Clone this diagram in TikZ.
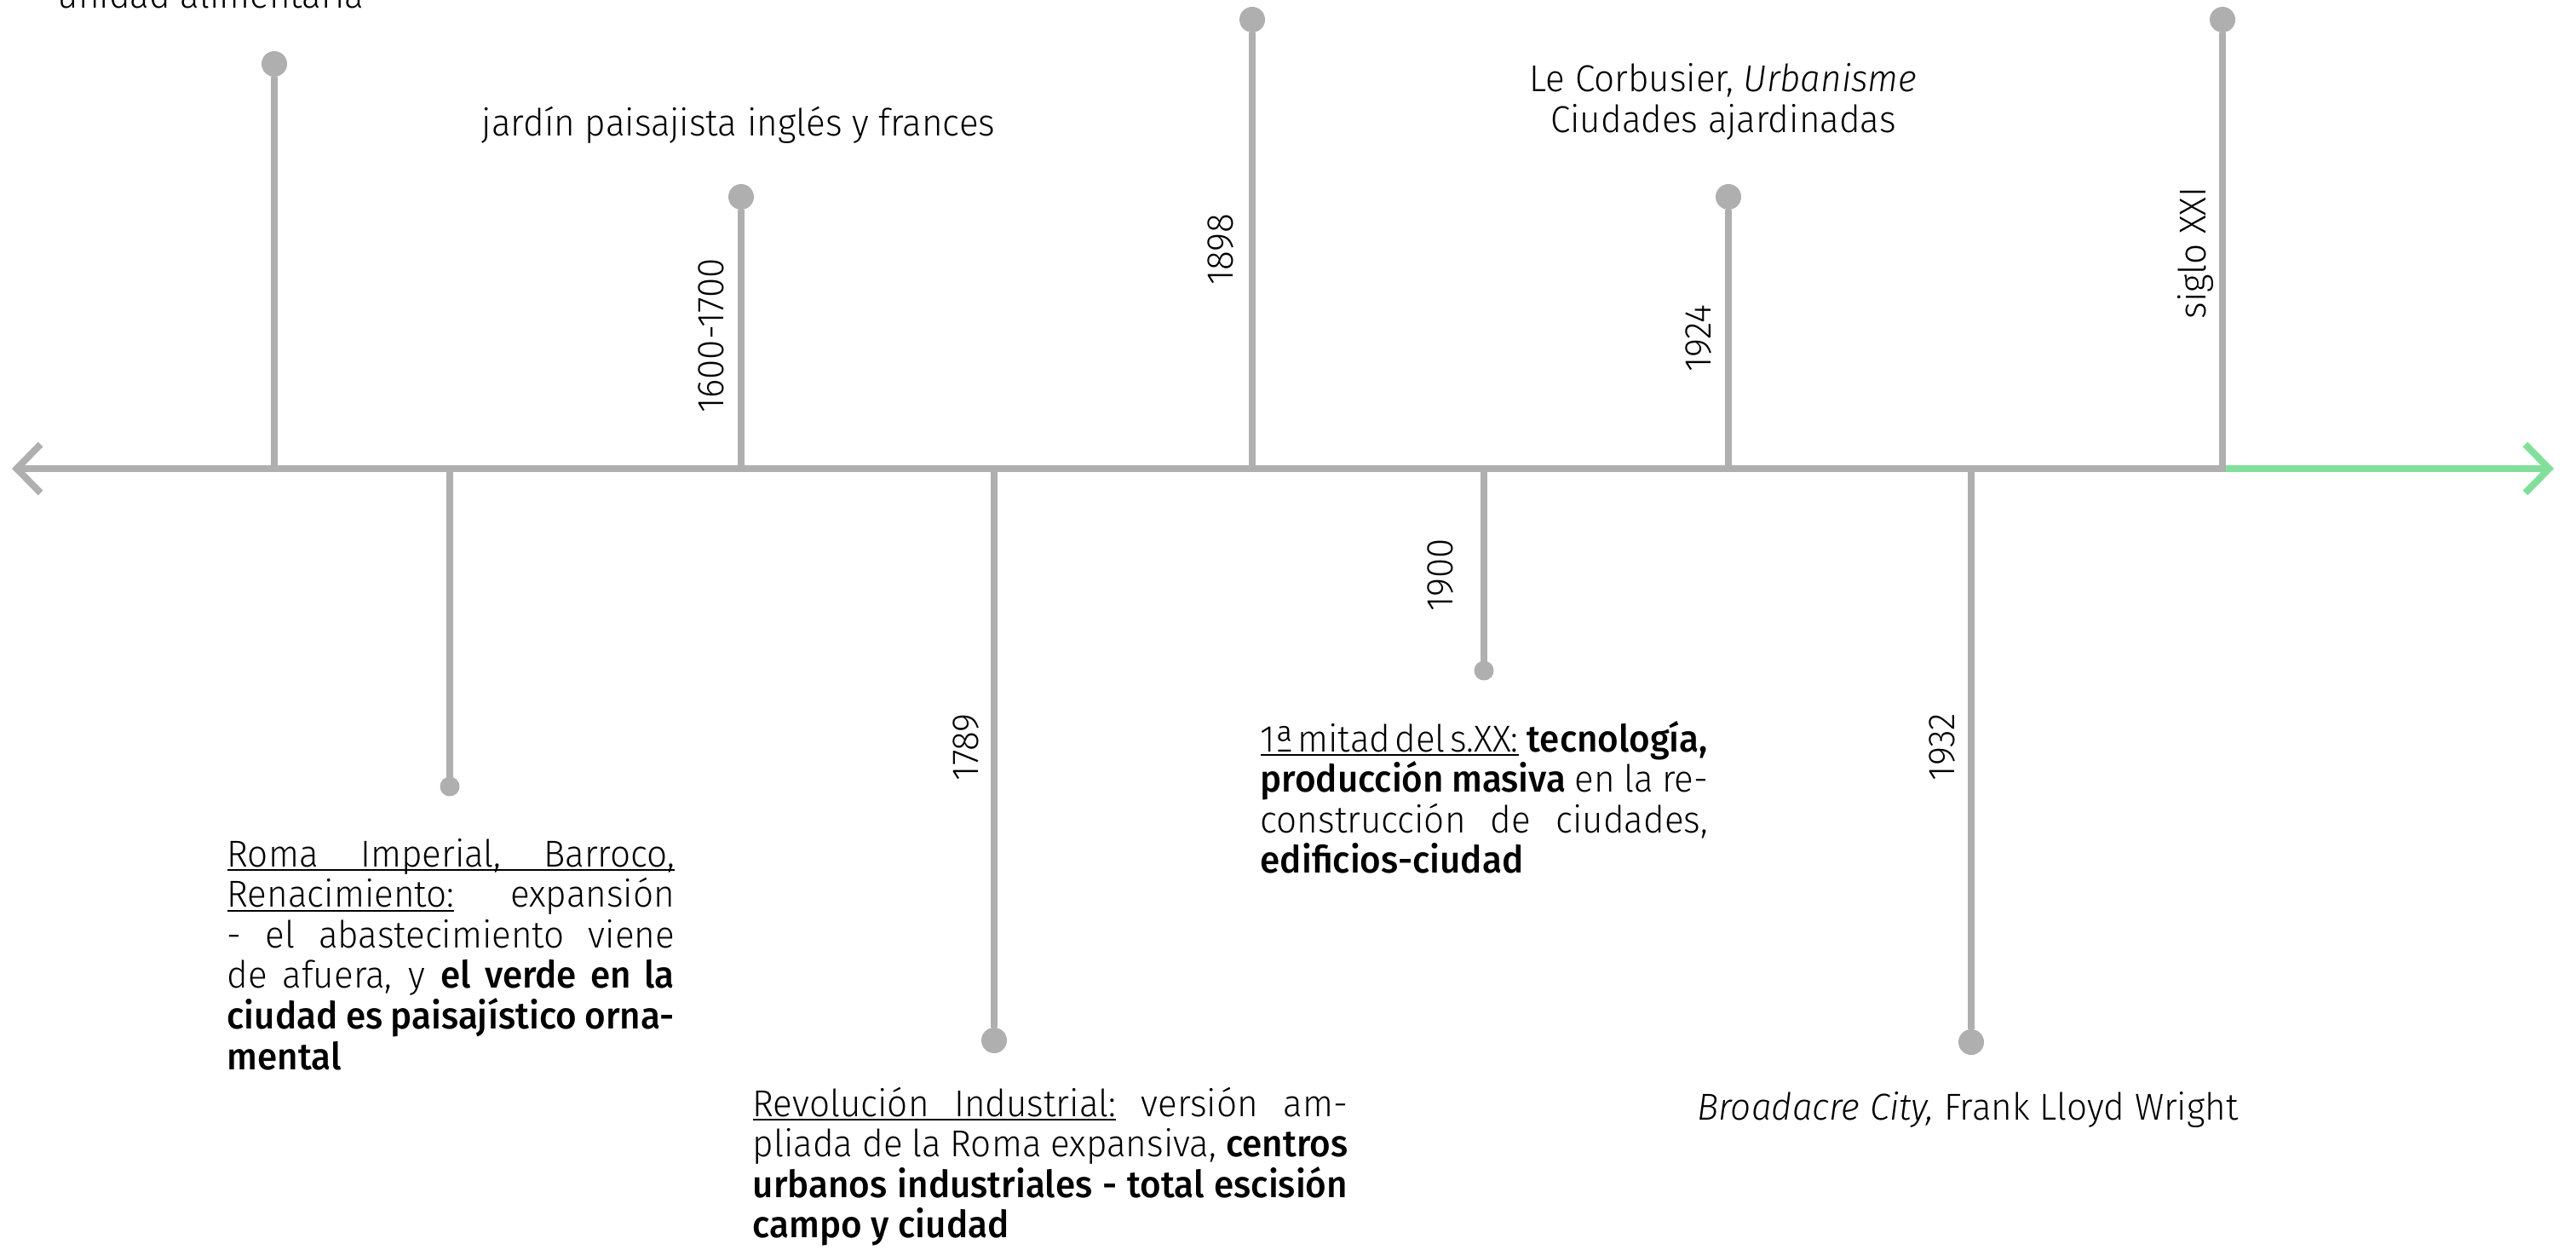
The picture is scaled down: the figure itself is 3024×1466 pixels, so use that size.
\documentclass[tikz,border=0pt]{standalone}
\usepackage{fontspec}
\setmainfont{Fira Sans}[UprightFont=* Light, ItalicFont=* Light Italic,
  BoldFont=* Medium, BoldItalicFont=* Medium Italic, FakeStretch=0.96]
\usepackage{tikz}
\usetikzlibrary{arrows.meta, positioning}
\definecolor{lgray}{RGB}{174,175,174}
\definecolor{lgreen}{RGB}{130,223,155}
\newcommand{\txtsize}{\fontsize{12.5}{13.55}\selectfont}
\hyphenpenalty=10000
\tolerance=10000
% underlined word, and underlined stretchable space
\newsavebox{\ulbox}
\newcommand{\ulw}[1]{\sbox{\ulbox}{#1}%
  \rlap{\rule[-1.4pt]{\wd\ulbox}{0.5pt}}\usebox{\ulbox}\relax}
\newcommand{\uls}{\leaders\hrule height -0.9pt depth 1.4pt
  \hskip\fontdimen2\font plus \fontdimen3\font minus \fontdimen4\font\relax}
\newcommand{\ulsn}{\leaders\hrule height -0.9pt depth 1.4pt
  \hskip 0.12em\relax}

\begin{document}
\begin{tikzpicture}[x=0.01cm, y=-0.01cm,% 1 unit = 1 px of the page
         > = {Straight Barb[length=2.8mm, width=5.7mm]},
axis/.style = {draw=lgray, line width=0.8mm},
stem/.style = {draw=lgray, line width=0.8mm},
big dot/.style = {circle, fill=lgray,
              minimum size=3mm, inner sep=0pt, outer sep=0pt,
              node contents={}},
small dot/.style = {circle, fill=lgray,
              minimum size=2.3mm, inner sep=0pt, outer sep=0pt,
              node contents={}},
date/.style = {rotate=90, anchor=base, inner sep=0pt, font=\txtsize},
label/.style = {inner sep=0pt, anchor=base, align=center, font=\txtsize},
para/.style = {inner sep=0pt, anchor=base west, align=justify, font=\txtsize}
                        ]
	\useasboundingbox (0,0) rectangle (3024,1466);

	% time axis
	\coordinate (L) at (14,550);
	\coordinate (R) at (2998,550);
	\coordinate (A) at (322,550);
	\coordinate (B) at (528,550);
	\coordinate (C) at (870,550);
	\coordinate (D) at (1167,550);
	\coordinate (E) at (1470,550);
	\coordinate (F) at (1742,550);
	\coordinate (G) at (2029,550);
	\coordinate (H) at (2314,550);
	\coordinate (I) at (2609,550);
	\coordinate (Ie) at (2613,550);

	\draw[axis,<-] (L) -- (Ie);
	\draw[axis,draw=lgreen,->] (Ie) -- (R);

	% stems and dots
	\node (dA) at (322,75) [big dot];
	\node (dB) at (528,923) [small dot];
	\node (dC) at (870,231) [big dot];
	\node (dD) at (1167,1221) [big dot];
	\node (dE) at (1470,23) [big dot];
	\node (dF) at (1742,787) [small dot];
	\node (dG) at (2029,231) [big dot];
	\node (dH) at (2314,1223) [big dot];
	\node (dI) at (2609,23) [big dot];

	\draw[stem] (A) -- (dA);
	\draw[stem] (B) -- (dB);
	\draw[stem] (C) -- (dC);
	\draw[stem] (D) -- (dD);
	\draw[stem] (E) -- (dE);
	\draw[stem] (F) -- (dF);
	\draw[stem] (G) -- (dG);
	\draw[stem] (H) -- (dH);
	\draw[stem] (I) -- (dI);

	% dates
	\node[date] (tC) at (849,394) {1600-1700};
	\node[date] (tE) at (1447,293) {1898};
	\node[date] (tG) at (2008,397) {1924};
	\node[date] (tI) at (2589,297) {siglo XXI};
	\node[date] (tF) at (1705,675) {1900};
	\node[date] (tD) at (1148,877) {1789};
	\node[date] (tH) at (2294,877) {1932};

	% texts
	\node[label, anchor=base west] (lA) at (67,9) {unidad alimentaria};
	\node[label] (lC) at (867,159) {jardín paisajista inglés y frances};
	\node[label] (lG) at (2023,155) {Le Corbusier, \textit{Urbanisme}\\Ciudades ajardinadas};
	\node[label] (lH) at (2310,1314) {\textit{Broadacre City,} Frank Lloyd Wright};

	\node[para, text width=5.25cm] (pB) at (266,1017)
	  {\ulw{Roma}\uls\ulw{Imperial,}\uls\ulw{Barroco,}\linebreak
	   \ulw{Renacimiento:} expansión\linebreak
	   - el abastecimiento viene\linebreak
	   de afuera, y \textbf{el verde en la}\linebreak
	   \textbf{ciudad es paisajístico orna-}\linebreak
	   \textbf{mental}};
	\node[para, text width=6.98cm] (pD) at (883,1310)
	  {\ulw{Revolución}\uls\ulw{Industrial:} versión am-\linebreak
	   pliada de la Roma expansiva, \textbf{centros}\linebreak
	   \textbf{urbanos industriales - total escisión}\linebreak
	   \textbf{campo y ciudad}};
	\node[para, text width=5.25cm] (pF) at (1479,882)
	  {\hbox to \linewidth{\ulw{1ª}\ulsn\ulw{mitad}\ulsn\ulw{del}\ulsn\ulw{s.XX:}%
	     \hskip 0.15em plus 1fil\textbf{tecnología,}}\linebreak
	   \textbf{producción masiva} en la re-\linebreak
	   construcción de ciudades,\linebreak
	   \textbf{edificios-ciudad}};
\end{tikzpicture}
\end{document}
